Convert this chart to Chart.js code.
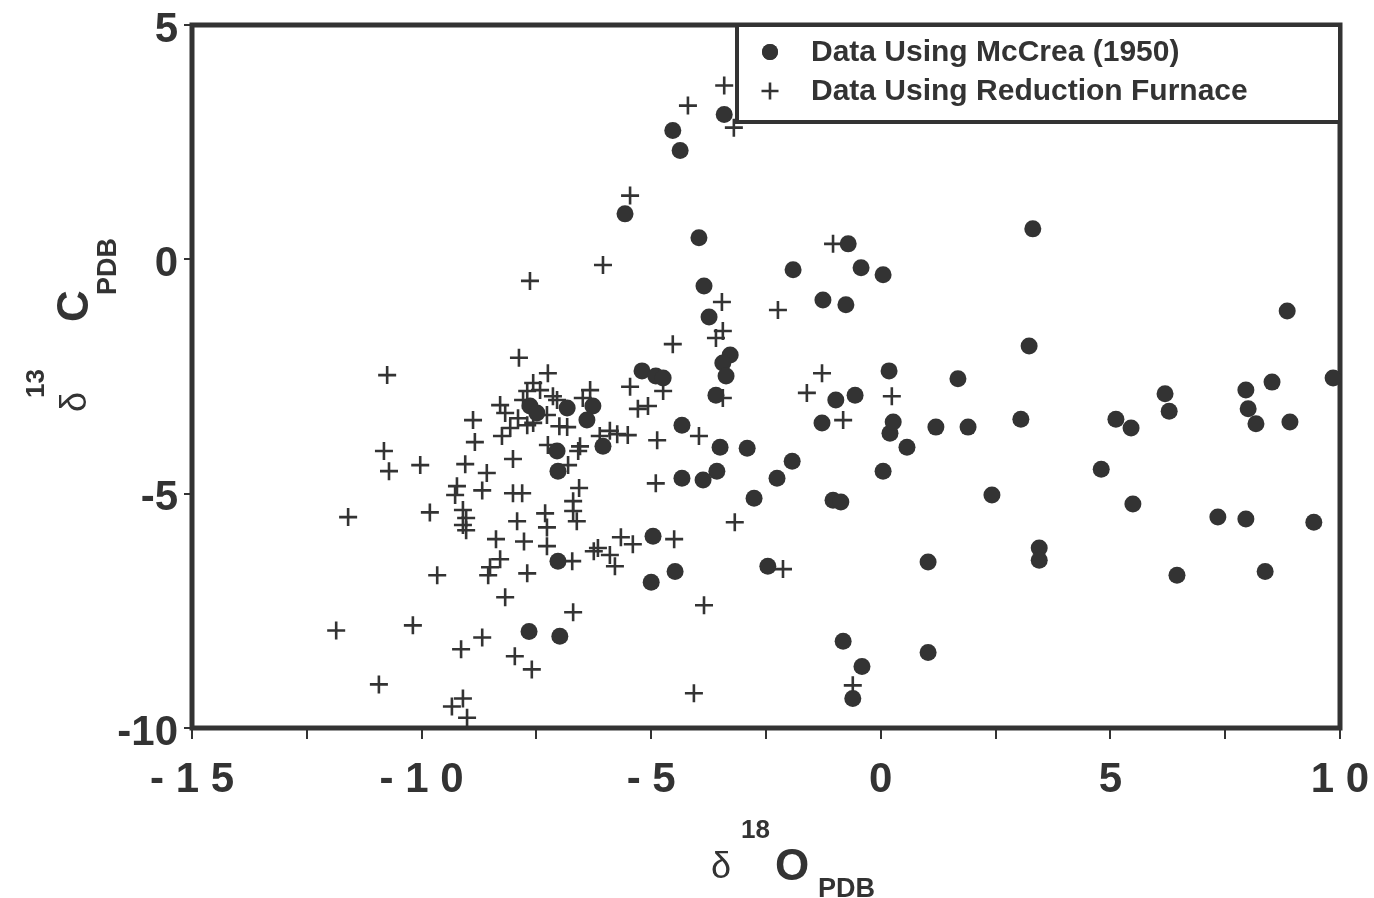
<!DOCTYPE html>
<html>
<head>
<meta charset="utf-8">
<script src="https://cdn.jsdelivr.net/npm/chart.js@4.4.0/dist/chart.umd.min.js"></script>
<style>
  html, body { margin: 0; padding: 0; background: #fff; }
</style>
</head>
<body>
<canvas id="myChart" width="1374" height="898"></canvas>
<script>
// McCrea (1950) method, filled circles
const mccreaX = [-4.53, -4.37, -3.41, -5.57, -3.96, -3.85, -3.74, -3.28, -3.44, -3.37,
  -3.59, -5.20, -4.90, -4.74, -4.33, -3.50, -2.91, -3.57, -3.87, -4.33,
  -2.26, -1.93, -2.76, -1.04, -0.87, 0.05, 0.20, -1.28, -4.96, -4.48,
  -5.00, -2.46, -7.03, -6.99, -7.66, -0.82, -0.41, -0.61, -0.71, -0.43,
  0.05, -1.91, -1.26, -0.76, 0.18, -0.98, -0.56, 0.27, 0.57, 3.31,
  8.85, 3.23, 1.68, 9.85, 6.19, 6.28, 7.95, 8.52, 8.00, 8.17,
  8.91, 1.20, 1.90, 3.05, 5.12, 5.45, 2.42, 4.80, 5.49, 7.34,
  7.95, 9.43, 1.03, 3.45, 3.45, 6.45, 8.37, 1.03, -7.64, -7.49,
  -6.83, -6.27, -6.40, -6.05, -7.05, -7.03];
const mccreaY = [2.75, 2.32, 3.09, 0.97, 0.46, -0.57, -1.23, -2.04, -2.21, -2.49,
  -2.90, -2.38, -2.49, -2.53, -3.54, -4.01, -4.03, -4.52, -4.71, -4.67,
  -4.67, -4.31, -5.10, -5.14, -5.18, -4.52, -3.71, -3.49, -5.91, -6.66,
  -6.89, -6.55, -6.44, -8.04, -7.94, -8.15, -8.69, -9.37, 0.33, -0.18,
  -0.33, -0.22, -0.87, -0.97, -2.38, -3.00, -2.90, -3.47, -4.01, 0.65,
  -1.10, -1.85, -2.55, -2.53, -2.87, -3.24, -2.79, -2.62, -3.19, -3.51,
  -3.47, -3.58, -3.58, -3.41, -3.41, -3.60, -5.03, -4.48, -5.22, -5.50,
  -5.54, -5.61, -6.46, -6.16, -6.42, -6.74, -6.66, -8.39, -3.13, -3.28,
  -3.17, -3.13, -3.43, -3.99, -4.09, -4.52];

// Reduction furnace, crosses
const furnaceX = [-4.20, -3.41, -3.20, -5.46, -6.05, -7.64, -1.04, -3.46, -2.24, -3.44,
  -3.59, -4.53, -1.28, -1.61, -3.44, 0.24, -0.82, -5.46, -5.29, -5.07,
  -4.74, -4.87, -3.96, -4.90, -4.50, -3.18, -2.13, -3.85, -4.07, -0.61,
  -6.70, -10.75, -7.88, -7.25, -8.88, -8.84, -10.82, -10.71, -10.03, -9.05,
  -8.58, -9.23, -9.27, -8.68, -8.01, -8.29, -8.18, -8.25, -8.07, -7.90,
  -7.57, -7.70, -7.79, -7.42, -7.14, -7.05, -7.27, -7.00, -6.83, -7.70,
  -7.57, -6.33, -6.49, -5.90, -5.74, -6.12, -5.51, -7.25, -6.55, -6.59,
  -6.81, -8.01, -7.81, -6.57, -6.70, -6.70, -6.62, -9.82, -9.10, -9.03,
  -9.10, -9.03, -11.60, -7.92, -7.31, -7.27, -8.38, -7.77, -7.27, -5.66,
  -5.40, -6.25, -6.16, -5.90, -5.79, -6.72, -8.29, -8.51, -8.55, -9.66,
  -7.70, -8.18, -11.86, -10.19, -8.68, -9.14, -7.97, -7.60, -10.93, -9.10,
  -9.34, -9.01];
const furnaceY = [3.28, 3.71, 2.81, 1.36, -0.12, -0.46, 0.33, -0.91, -1.08, -1.53,
  -1.68, -1.81, -2.43, -2.85, -2.96, -2.92, -3.43, -2.72, -3.19, -3.13,
  -2.81, -3.86, -3.77, -4.78, -5.97, -5.61, -6.61, -7.38, -9.26, -9.09,
  -7.53, -2.47, -2.10, -2.43, -3.43, -3.90, -4.09, -4.52, -4.39, -4.37,
  -4.56, -4.84, -5.03, -4.93, -4.26, -3.11, -3.28, -3.77, -3.60, -3.39,
  -2.64, -2.81, -3.00, -2.79, -2.92, -3.00, -3.32, -3.56, -3.58, -3.54,
  -3.49, -2.79, -2.96, -3.66, -3.73, -3.77, -3.75, -3.96, -3.99, -4.09,
  -4.39, -4.99, -4.99, -4.88, -5.16, -5.37, -5.59, -5.40, -5.35, -5.52,
  -5.67, -5.78, -5.50, -5.59, -5.42, -5.72, -5.97, -6.02, -6.12, -5.93,
  -6.08, -6.23, -6.16, -6.31, -6.55, -6.44, -6.40, -6.57, -6.74, -6.74,
  -6.70, -7.21, -7.92, -7.81, -8.07, -8.32, -8.47, -8.75, -9.07, -9.37,
  -9.54, -9.78];

const xTicks = [-15, -10, -5, 0, 5, 10];
const xTickLabels = ['- 1 5', '- 1 0', '- 5', '0', '5', '1 0'];
const yTicks = [5, 0, -5, -10];
const yTickLabels = ['5', '0', '-5', '-10'];
const legendLabels = ['Data Using McCrea (1950)', 'Data Using Reduction Furnace'];

const ink = '#333333';
const FONT = "'Liberation Sans', Arial, Helvetica, sans-serif";

const toPoints = (xs, ys) => xs.map((x, i) => ({ x: x, y: ys[i] }));

const data = {
  datasets: [{
    label: legendLabels[0],
    data: toPoints(mccreaX, mccreaY),
    pointStyle: 'circle',
    pointRadius: 8.5,
    backgroundColor: ink,
    borderColor: ink,
    borderWidth: 0,
    clip: false
  }, {
    label: legendLabels[1],
    data: toPoints(furnaceX, furnaceY),
    pointStyle: 'cross',
    pointRadius: 9,
    backgroundColor: ink,
    borderColor: ink,
    borderWidth: 2.6,
    clip: false
  }]
};

// thick frame round the plot area
const framePlugin = {
  id: 'frame',
  beforeDatasetsDraw(chart) {
    const a = chart.chartArea;
    const ctx = chart.ctx;
    ctx.save();
    ctx.strokeStyle = ink;
    ctx.lineWidth = 5;
    ctx.strokeRect(a.left, a.top, a.right - a.left, a.bottom - a.top);
    ctx.restore();
  }
};

// boxed legend in the top right corner
const legendBox = {
  id: 'legendBox',
  afterDatasetsDraw(chart) {
    const a = chart.chartArea;
    const ctx = chart.ctx;
    const w = 603, h = 97;
    const left = a.right - w, top = a.top;
    ctx.save();
    ctx.fillStyle = '#fff';
    ctx.fillRect(left, top, w, h);
    ctx.strokeStyle = ink;
    ctx.lineWidth = 4;
    ctx.strokeRect(left, top, w, h);
    chart.data.datasets.forEach((ds, i) => {
      const cy = top + 27 + i * 39;
      ctx.fillStyle = ink;
      ctx.strokeStyle = ink;
      ctx.lineWidth = ds.borderWidth || 1;
      Chart.helpers.drawPoint(ctx, { pointStyle: ds.pointStyle, radius: ds.pointStyle === 'circle' ? 8 : 8.5, borderWidth: ds.borderWidth }, left + 33, cy);
      if (ds.pointStyle === 'circle') { ctx.fill(); }
      ctx.font = 'bold 30px ' + FONT;
      ctx.textBaseline = 'middle';
      ctx.textAlign = 'left';
      ctx.fillText(ds.label, left + 74, cy + 1);
    });
    ctx.restore();
  }
};

// axis titles with superscripts and subscripts
const axisTitles = {
  id: 'axisTitles',
  afterDraw(chart) {
    const ctx = chart.ctx;
    ctx.save();
    ctx.fillStyle = ink;
    ctx.textBaseline = 'alphabetic';
    ctx.textAlign = 'left';
    // x title
    ctx.font = '36px ' + FONT;
    ctx.fillText('δ', 711, 878);
    ctx.font = 'bold 26px ' + FONT;
    ctx.fillText('18', 741, 838);
    ctx.font = 'bold 44px ' + FONT;
    ctx.fillText('O', 775, 880);
    ctx.font = 'bold 27px ' + FONT;
    ctx.fillText('PDB', 818, 897);
    // y title, rotated
    ctx.rotate(-Math.PI / 2);
    ctx.font = '36px ' + FONT;
    ctx.fillText('δ', -412, 86);
    ctx.font = 'bold 26px ' + FONT;
    ctx.fillText('13', -398, 44);
    ctx.font = 'bold 44px ' + FONT;
    ctx.fillText('C', -322, 88);
    ctx.font = 'bold 27px ' + FONT;
    ctx.fillText('PDB', -295, 116);
    ctx.restore();
  }
};

const config = {
  type: 'scatter',
  data: data,
  options: {
    responsive: false,
    devicePixelRatio: 1,
    animation: false,
    layout: { padding: { left: 0, top: 25, right: 34, bottom: 0 } },
    plugins: {
      legend: { display: false },
      tooltip: { enabled: false }
    },
    scales: {
      x: {
        type: 'linear',
        min: -15,
        max: 10,
        afterFit: (s) => { s.height = 170; s.paddingLeft = 0; s.paddingRight = 0; },
        border: { display: false },
        grid: { drawOnChartArea: false, drawTicks: true, tickLength: 11, color: ink, lineWidth: 2 },
        ticks: {
          stepSize: 2.5,
          autoSkip: false,
          maxRotation: 0,
          padding: 16,
          color: ink,
          font: { family: FONT, size: 42, weight: 'bold' },
          callback: (v) => {
            const i = xTicks.indexOf(v);
            return i >= 0 ? xTickLabels[i] : '';
          }
        }
      },
      y: {
        type: 'linear',
        min: -10,
        max: 5,
        afterFit: (s) => { s.width = 192; s.paddingTop = 0; s.paddingBottom = 0; },
        border: { display: false },
        grid: { drawOnChartArea: false, drawTicks: true, tickLength: 8, color: ink, lineWidth: 2 },
        ticks: {
          stepSize: 5,
          padding: 6,
          labelOffset: 5,
          color: ink,
          font: { family: FONT, size: 42, weight: 'bold' },
          callback: (v) => {
            const i = yTicks.indexOf(v);
            return i >= 0 ? yTickLabels[i] : '';
          }
        }
      }
    }
  },
  plugins: [framePlugin, legendBox, axisTitles]
};

const myChart = new Chart(
  document.getElementById('myChart'),
  config
);
</script>
</body>
</html>
